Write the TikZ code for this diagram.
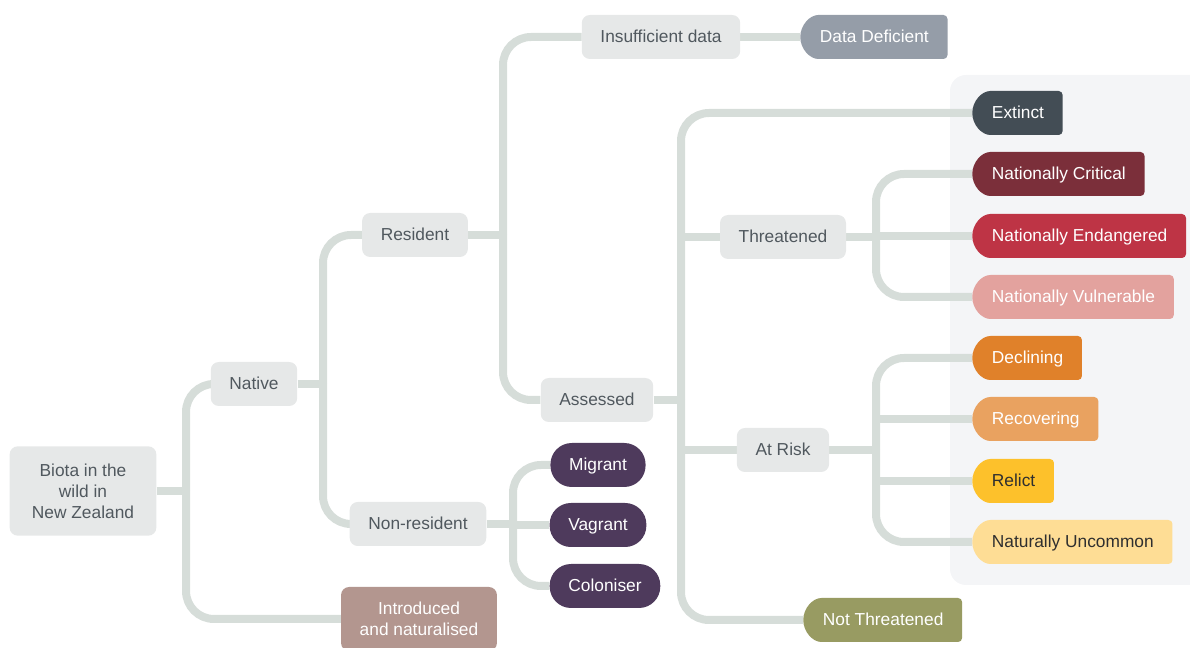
\documentclass[tikz,border=0pt]{standalone}
\usepackage{fontspec}
\setmainfont{Liberation Sans}
\usepackage{xcolor}
\usepackage{tikz}
\usetikzlibrary{shapes.misc, positioning, backgrounds}
\definecolor{linkcolor}{RGB}{214, 221, 217}
\definecolor{panelcolor}{RGB}{244, 245, 247}
\definecolor{boxcolor}{RGB}{230, 232, 232}
\definecolor{boxtext}{RGB}{80, 88, 94}
\definecolor{movercolor}{RGB}{78, 58, 92}
\definecolor{introcolor}{RGB}{179, 150, 143}
\definecolor{ddcolor}{RGB}{149, 157, 168}
\definecolor{excolor}{RGB}{67, 77, 85}
\definecolor{nccolor}{RGB}{123, 47, 58}
\definecolor{necolor}{RGB}{190, 52, 69}
\definecolor{nvcolor}{RGB}{227, 162, 158}
\definecolor{declcolor}{RGB}{224, 129, 42}
\definecolor{reccolor}{RGB}{233, 162, 96}
\definecolor{relcolor}{RGB}{253, 193, 43}
\definecolor{nuccolor}{RGB}{254, 221, 149}
\definecolor{ntcolor}{RGB}{152, 155, 98}
\definecolor{darktext}{RGB}{47, 47, 47}
\tikzstyle{box} = [rectangle, rounded corners=6pt, minimum height=33pt, inner xsep=14pt, fill=boxcolor, text=boxtext, align=center]
\tikzstyle{group} = [box, text height=9pt, text depth=1pt]
\tikzstyle{mover} = [rectangle, rounded corners=16pt, minimum height=33pt, inner xsep=14pt, text height=9pt, text depth=1pt, fill=movercolor, text=white]
\tikzstyle{status} = [rounded rectangle, rounded rectangle right arc=none, rounded corners=3pt, minimum height=33pt, inner xsep=14pt, text height=9pt, text depth=1pt, anchor=west, text=white]
\tikzstyle{link} = [line width=6pt, draw=linkcolor]
\tikzstyle{forklink} = [link, rounded corners=21pt]
\begin{document}
\begin{tikzpicture}[x=0.75pt, y=-0.75pt, every node/.style={font=\fontsize{13}{15.75}\selectfont}]
\useasboundingbox (0,0) rectangle (1190,648);

% Origine
\node (biota) [box, minimum width=110pt, minimum height=67pt] at (83,491) {Biota in the\\wild in\\New Zealand};
\node (native) [group] at (254,384) {Native};
\node (intro) [box, fill=introcolor, text=white, minimum height=48pt] at (419,619) {Introduced\\and naturalised};

% Natives
\node (resident) [group] at (415,235) {Resident};
\node (nonres) [group] at (418,524) {Non-resident};
\node (insuff) [group] at (661,37) {Insufficient data};
\node (assessed) [group] at (597,400) {Assessed};
\node (migrant) [mover] at (598,465) {Migrant};
\node (vagrant) [mover] at (598,525) {Vagrant};
\node (colon) [mover] at (605,586) {Coloniser};

% Evaluation
\node (threat) [group] at (783,237) {Threatened};
\node (atrisk) [group] at (783,450) {At Risk};
\node (dd) [status, fill=ddcolor] at (800,37) {Data Deficient};
\node (nt) [status, fill=ntcolor] at (803,620) {Not Threatened};

% Statuts
\node (extinct) [status, fill=excolor] at (972,113) {Extinct};
\node (ncrit) [status, fill=nccolor] at (972,174) {Nationally Critical};
\node (nend) [status, fill=necolor] at (972,236) {Nationally Endangered};
\node (nvul) [status, fill=nvcolor] at (972,297) {Nationally Vulnerable};
\node (decl) [status, fill=declcolor] at (972,358) {Declining};
\node (recov) [status, fill=reccolor] at (972,419) {Recovering};
\node (relict) [status, fill=relcolor, text=darktext] at (972,481) {Relict};
\node (nunc) [status, fill=nuccolor, text=darktext] at (972,542) {Naturally Uncommon};

% Liens
\begin{scope}[on background layer]
\fill[panelcolor, rounded corners=12pt] (950,75) rectangle (1210,585);
\coordinate (bfork) at (186,491);
\coordinate (nfork) at (323,384);
\coordinate (rfork) at (503,235);
\coordinate (mfork) at (513,524);
\coordinate (afork) at (681,400);
\coordinate (tfork) at (876,237);
\coordinate (kfork) at (876,450);
\draw [link] (biota) -- (bfork);
\draw [forklink] (bfork) |- (native);
\draw [forklink] (bfork) |- (intro);
\draw [link] (native) -- (nfork);
\draw [forklink] (nfork) |- (resident);
\draw [forklink] (nfork) |- (nonres);
\draw [link] (resident) -- (rfork);
\draw [forklink] (rfork) |- (insuff);
\draw [forklink] (rfork) |- (assessed);
\draw [link] (insuff) -- (dd);
\draw [link] (nonres) -- (mfork);
\draw [forklink] (mfork) |- (migrant);
\draw [link] (mfork |- vagrant) -- (vagrant);
\draw [forklink] (mfork) |- (colon);
\draw [link] (assessed) -- (afork);
\draw [forklink] (afork) |- (extinct);
\draw [link] (afork |- threat) -- (threat);
\draw [link] (afork |- atrisk) -- (atrisk);
\draw [forklink] (afork) |- (nt);
\draw [link] (threat) -- (tfork);
\draw [forklink] (tfork) |- (ncrit);
\draw [link] (tfork |- nend) -- (nend);
\draw [forklink] (tfork) |- (nvul);
\draw [link] (atrisk) -- (kfork);
\draw [forklink] (kfork) |- (decl);
\draw [link] (kfork |- recov) -- (recov);
\draw [link] (kfork |- relict) -- (relict);
\draw [forklink] (kfork) |- (nunc);
\end{scope}

\end{tikzpicture}
\end{document}
